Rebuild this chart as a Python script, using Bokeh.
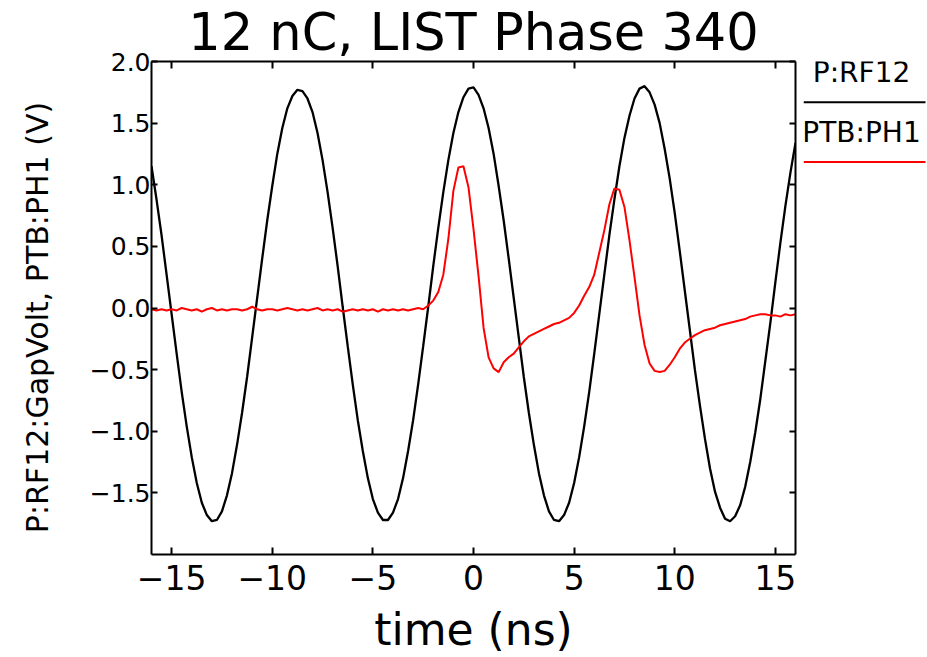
import numpy as np
from bokeh.plotting import figure
from bokeh.layouts import row
from bokeh.models import (Range1d, LinearAxis, FixedTicker, Title,
                          CustomJSTickFormatter)
from bokeh.core.properties import value
from bokeh.embed import file_html
from bokeh.resources import INLINE

# ---------------- data ----------------
title_text = "12 nC, LIST Phase 340"
x_label = "time (ns)"
y_label = "P:RF12:GapVolt,  PTB:PH1  (V)"
series_names = ["P:RF12", "PTB:PH1"]

x_ticks = [-15, -10, -5, 0, 5, 10, 15]
x_tick_labels = ["\u221215", "\u221210", "\u22125", "0", "5", "10", "15"]
y_ticks = [-1.5, -1.0, -0.5, 0.0, 0.5, 1.0, 1.5, 2.0]
y_tick_labels = ["\u22121.5", "\u22121.0", "\u22120.5", "0.0", "0.5", "1.0", "1.5", "2.0"]

# P:RF12 gap voltage, sampled every 0.25 ns from -16 ns to 16 ns
rf_time = np.linspace(-16, 16, 129)
rf_volt = [1.15, 0.88, 0.59, 0.27, -0.05, -0.37, -0.68, -0.96, -1.21, -1.42,
           -1.58, -1.68, -1.73, -1.72, -1.65, -1.52, -1.34, -1.11, -0.85, -0.56,
           -0.24, 0.08, 0.40, 0.71, 0.99, 1.25, 1.46, 1.62, 1.72, 1.77,
           1.76, 1.70, 1.59, 1.42, 1.20, 0.94, 0.65, 0.34, 0.01, -0.31,
           -0.62, -0.91, -1.16, -1.38, -1.55, -1.66, -1.72, -1.72, -1.66, -1.55,
           -1.38, -1.16, -0.91, -0.62, -0.31, 0.01, 0.34, 0.65, 0.94, 1.20,
           1.42, 1.59, 1.71, 1.78, 1.79, 1.73, 1.62, 1.46, 1.25, 0.99,
           0.71, 0.40, 0.08, -0.24, -0.56, -0.85, -1.11, -1.34, -1.52, -1.65,
           -1.72, -1.73, -1.68, -1.58, -1.42, -1.21, -0.96, -0.68, -0.37, -0.05,
           0.27, 0.59, 0.88, 1.15, 1.38, 1.56, 1.70, 1.78, 1.80, 1.75,
           1.65, 1.50, 1.29, 1.05, 0.77, 0.46, 0.14, -0.18, -0.50, -0.79,
           -1.06, -1.30, -1.49, -1.62, -1.71, -1.73, -1.69, -1.60, -1.45, -1.25,
           -1.01, -0.74, -0.43, -0.12, 0.21, 0.53, 0.83, 1.10, 1.34]

# PTB:PH1 signal, sampled every 0.25 ns from -16 ns to 16 ns
ph_time = np.linspace(-16, 16, 129)
ph_volt = [-0.01, -0.02, -0.01, -0.02, -0.01, -0.02, 0.00, -0.01, -0.02, -0.01,
           -0.03, -0.01, 0.00, -0.02, -0.01, -0.02, -0.01, -0.01, -0.02, -0.01,
           0.01, -0.01, -0.02, -0.01, -0.01, -0.02, -0.01, 0.00, -0.01, -0.02,
           -0.01, -0.02, -0.01, 0.00, -0.02, -0.01, -0.02, -0.01, -0.03, -0.02,
           -0.01, -0.02, -0.01, -0.02, -0.01, -0.03, -0.01, -0.02, -0.01, -0.02,
           -0.01, -0.02, -0.01, 0.00, -0.01,
           0.02, 0.06, 0.13, 0.27, 0.56, 0.95, 1.14, 1.15, 0.98, 0.64,
           0.26, -0.16, -0.40, -0.49, -0.52, -0.44, -0.40, -0.37, -0.32, -0.27,
           -0.23, -0.21, -0.19, -0.17, -0.15, -0.13, -0.12, -0.10, -0.08, -0.04,
           0.02, 0.10, 0.17, 0.27, 0.45, 0.63, 0.84, 0.97, 0.96, 0.82,
           0.55, 0.25, -0.06, -0.30, -0.45, -0.51, -0.52, -0.51, -0.46, -0.40,
           -0.33, -0.28, -0.25, -0.22, -0.20, -0.18, -0.17, -0.16, -0.14, -0.13,
           -0.12, -0.11, -0.10, -0.09, -0.07, -0.06, -0.05, -0.05, -0.06, -0.06,
           -0.07, -0.05, -0.06, -0.05]

series_colors = ["black", "#ff0000"]

FONT = "DejaVu Sans"

# ---------------- main figure ----------------
FRAME_TOP, FRAME_BOTTOM = 59, 555   # page pixels of the plot frame
p = figure(width=803, height=657,
           x_range=Range1d(-16, 16), y_range=Range1d(-2, 2),
           output_backend="svg", toolbar_location=None,
           min_border_left=151, min_border_right=8,
           min_border_top=FRAME_TOP, min_border_bottom=657 - FRAME_BOTTOM,
           x_axis_label=x_label, y_axis_label=y_label)
p.xgrid.visible = False
p.ygrid.visible = False
p.outline_line_color = None
p.background_fill_color = "white"
p.border_fill_color = "white"

p.title = Title(text=title_text, align="center", vertical_align="bottom",
                standoff=0, text_font=FONT, text_font_size="51px",
                text_font_style="normal", text_color="black")


def make_fmt(vals, labs):
    return CustomJSTickFormatter(args=dict(vals=vals, labs=labs), code="""
        let best = ''; let d = 1e9;
        for (let i = 0; i < vals.length; i++) {
            const e = Math.abs(vals[i] - tick);
            if (e < d) { d = e; best = labs[i]; }
        }
        return best;
    """)


def style_axis(ax, ticks, tick_in):
    ax.ticker = FixedTicker(ticks=ticks, minor_ticks=[])
    ax.axis_line_color = "black"
    ax.axis_line_width = 2
    ax.major_tick_line_color = "black"
    ax.major_tick_line_width = 2
    ax.major_tick_in = tick_in
    ax.major_tick_out = 0
    ax.minor_tick_in = 0
    ax.minor_tick_out = 0
    ax.major_label_text_font = FONT
    ax.major_label_text_color = "black"
    ax.axis_label_text_font = FONT
    ax.axis_label_text_font_style = "normal"
    ax.axis_label_text_color = "black"


xa = p.xaxis[0]
style_axis(xa, x_ticks, 7)
xa.formatter = make_fmt(x_ticks, x_tick_labels)
xa.major_label_text_font_size = "33px"
xa.major_label_standoff = 10
xa.axis_label_text_font_size = "44px"
xa.axis_label_standoff = 11

ya = p.yaxis[0]
style_axis(ya, y_ticks, 6)
ya.formatter = make_fmt(y_ticks, y_tick_labels)
ya.major_label_text_font_size = "25px"
ya.major_label_standoff = 1
ya.axis_label_text_font_size = "30px"
ya.axis_label_standoff = 32

empty = CustomJSTickFormatter(code="return '';")
top = LinearAxis(formatter=empty)
style_axis(top, x_ticks, 7)
top.major_label_standoff = 0
top.major_label_text_font_size = "0px"
p.add_layout(top, "above")
right = LinearAxis(formatter=empty)
style_axis(right, y_ticks, 6)
right.major_label_standoff = 0
right.major_label_text_font_size = "0px"
p.add_layout(right, "right")

p.line(rf_time, rf_volt, line_color=series_colors[0], line_width=2.3)
p.line(ph_time, ph_volt, line_color=series_colors[1], line_width=2)

# ---------------- legend panel (label above line) ----------------
# its frame is aligned with the main frame, so use page pixels as coordinates
leg = figure(width=124, height=657, x_range=Range1d(0, 124),
             y_range=Range1d(FRAME_BOTTOM, FRAME_TOP),
             output_backend="svg", toolbar_location=None,
             min_border_left=0, min_border_right=0,
             min_border_top=FRAME_TOP, min_border_bottom=657 - FRAME_BOTTOM,
             x_axis_location=None, y_axis_location=None)
leg.grid.visible = False
leg.outline_line_color = None
leg.background_fill_color = "white"
leg.border_fill_color = "white"

leg_text_x = [58, 58]
leg_text_y = [70, 130]
leg_line_x0 = [0, 0]
leg_line_x1 = [122, 122]
leg_line_y = [100, 160]
leg.text(x=leg_text_x, y=leg_text_y, text=series_names, text_align="center",
         text_baseline="alphabetic", text_font=value(FONT), text_font_size="28px",
         text_color="black")
leg.segment(x0=leg_line_x0, x1=leg_line_x1, y0=leg_line_y, y1=leg_line_y,
            line_color=series_colors, line_width=2)

layout = row(p, leg)
open("out.html", "w").write(file_html(layout, INLINE))
